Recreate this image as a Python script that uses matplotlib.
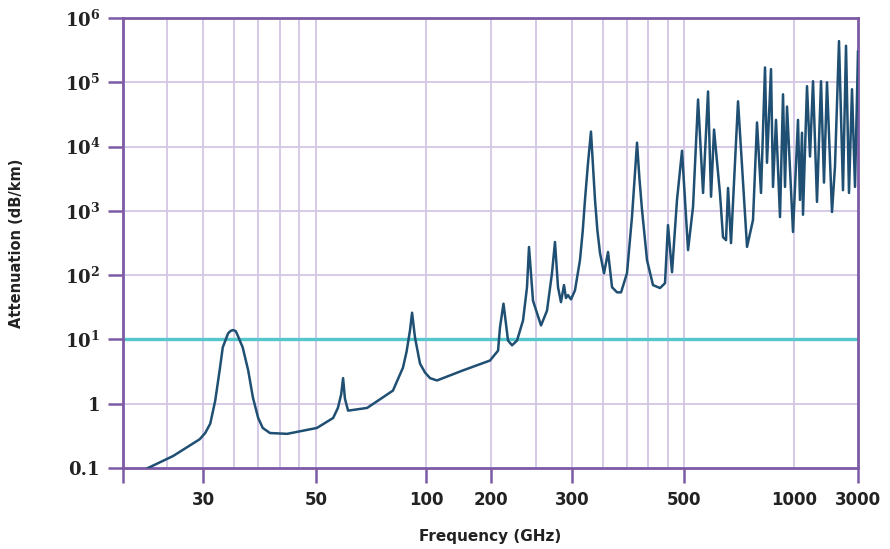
import numpy as np
import matplotlib.pyplot as plt

# frequency (GHz) and attenuation (dB/km)
freq = [22.7, 25.8, 29.5, 30.3, 31.0, 31.7, 32.4, 32.8, 33.6, 34.0, 34.4, 34.8,
        35.1, 35.9, 36.8, 37.6, 38.5, 39.3, 40.6, 43.9, 50.3, 55.7, 57.4,
        58.6, 59.3, 60.0, 61.2, 69.0, 81.2, 86.5, 88.5, 90.4, 91.6, 93.3, 96.3,
        99.4, 104.4, 112.4, 148.4, 197.9, 207.2, 209.2, 212.9, 217.8,
        222.2, 227.8, 234.8, 239.5, 241.9, 246.8, 256.9, 264.7, 271.4, 275.5,
        279.7, 283.9, 288.2, 291.1, 294.0, 298.5, 304.1, 311.1, 315.0, 318.3,
        322.5, 327.1, 331.0, 333.2, 336.8, 340.9, 347.2, 353.6, 360.1, 368.4,
        375.2, 385.5, 394.4, 399.0, 403.6, 408.0, 412.9, 422.4, 434.1, 448.2,
        458.5, 464.8, 473.4, 484.3, 495.5, 512.9,
        529.3, 546.3, 563.8, 581.8, 592.9, 604.2, 627.0, 639.4, 651.6, 659.9,
        672.4, 702.8, 743.8, 772.3, 792.1, 812.3, 833.0, 843.5, 865.1, 876.1,
        892.8, 915.6, 933.2, 945.0, 957.0, 993.8, 1071, 1108, 1147, 1167, 1250,
        1316, 1386, 1484, 1590, 1673, 1762, 1920, 2021, 2165, 2319, 2442, 2570,
        2706, 2849, 3000]
atten = [0.1, 0.154, 0.28, 0.35, 0.49, 1.11, 3.65, 7.5, 12.4, 13.6, 14, 13.4,
         11.5, 7.5, 3.3, 1.24, 0.6, 0.42, 0.35, 0.34, 0.42, 0.6, 0.86,
         1.4, 2.5, 1.2, 0.78, 0.86, 1.6, 3.65, 6.5, 13.8, 26, 10.7, 4.2,
         3.05, 2.5, 2.3, 3.3, 4.7, 6.7, 15.4, 36, 9.6, 8.1, 9.6, 19.8, 65,
         274, 40, 16.5, 28, 107, 328, 65, 38, 70, 44, 49, 42, 58, 171, 480,
         1480, 5200, 17100, 3500, 1480, 500, 220, 107, 229, 65, 54, 54, 107,
         805, 3000, 11500, 3200, 1030, 171, 70, 63, 75, 600, 111, 1480, 8600,
         245, 1160, 54000, 1900, 72000, 1660, 18400, 1900, 390, 350, 2270, 315,
         50600, 275, 720, 23700, 1900, 170000, 5600, 160000, 2360, 26000, 800,
         65000, 2360, 42000, 470, 26000, 1480, 16400, 870, 87000, 7000, 104000,
         1380, 104000, 2750, 100000, 960, 4900, 437000, 2100, 370000, 1900,
         78000, 2360, 300000]

# the printed frequency axis is not a true log axis: tick frequencies and where they sit
axis_freq = [20, 30, 50, 100, 200, 300, 500, 1000, 3000]
axis_pos = [0, 80, 193, 303, 368, 449, 561, 671, 735]
tick_freq = [20, 30, 50, 100, 200, 300, 500, 1000, 3000]
tick_text = ['', '30', '50', '100', '200', '300', '500', '1000', '3000']
grid_freq = [25, 30, 34.5, 38.5, 42.5, 46.3, 50, 100, 200, 250, 300,
             345.6, 385.5, 424.3, 464.8, 500, 1000]
y_ticks = [0.1, 1, 10, 1e2, 1e3, 1e4, 1e5, 1e6]
y_text = ['0.1', '1', r'$10^{1}$', r'$10^{2}$', r'$10^{3}$', r'$10^{4}$',
          r'$10^{5}$', r'$10^{6}$']
limit = 10


def fwd(f):
    f = np.clip(np.asarray(f, dtype=float), 1e-9, None)
    return np.interp(np.log10(f), np.log10(axis_freq), axis_pos)


def inv(p):
    return 10 ** np.interp(p, axis_pos, np.log10(axis_freq))


plt.rcParams['mathtext.fontset'] = 'dejavuserif'
plt.rcParams['mathtext.default'] = 'bf'
purple = '#7d5aa6'
grid_c = '#d3c6e6'

fig = plt.figure(figsize=(8.9, 5.49), dpi=100)
ax = fig.add_axes([123 / 890, 1 - 468 / 549, 735 / 890, 450 / 549])
ax.set_xscale('function', functions=(fwd, inv))
ax.set_yscale('log')
ax.set_xlim(20, 3000)
ax.set_ylim(0.1, 1e6)

for g in grid_freq:
    ax.axvline(g, color=grid_c, lw=1.3, zorder=0)
for t in y_ticks[1:-1]:
    ax.axhline(t, color=grid_c, lw=1.3, zorder=0)

ax.axhline(limit, color='#55c6ca', lw=2.4, zorder=2)
ax.plot(freq, atten, color='#1f4f72', lw=1.8, zorder=3)

ax.set_xticks(tick_freq)
ax.set_xticklabels(tick_text)
ax.xaxis.set_minor_locator(plt.NullLocator())
ax.set_yticks(y_ticks)
ax.set_yticklabels(y_text)
ax.yaxis.set_minor_locator(plt.NullLocator())
ax.xaxis.get_major_ticks()[7].tick1line.set_visible(False)

ax.tick_params(axis='both', direction='out', length=10.5, width=1.8,
               color=purple, pad=6)
for lab in ax.get_xticklabels():
    lab.set_fontweight('bold')
    lab.set_fontsize(12)
    lab.set_color('#222222')
for lab in ax.get_yticklabels():
    lab.set_fontweight('bold')
    lab.set_fontfamily('DejaVu Serif')
    lab.set_fontsize(13)
    lab.set_color('#222222')

for s in ax.spines.values():
    s.set_color(purple)
    s.set_linewidth(2)

ax.set_xlabel('Frequency (GHz)', fontsize=11, fontweight='bold', color='#222222')
ax.set_ylabel('Attenuation (dB/km)', fontsize=10.5, fontweight='bold', color='#222222')
ax.xaxis.set_label_coords(0.499, -0.135)
ax.yaxis.set_label_coords(-0.135, 0.5)

fig.savefig('out.png', dpi=100)
